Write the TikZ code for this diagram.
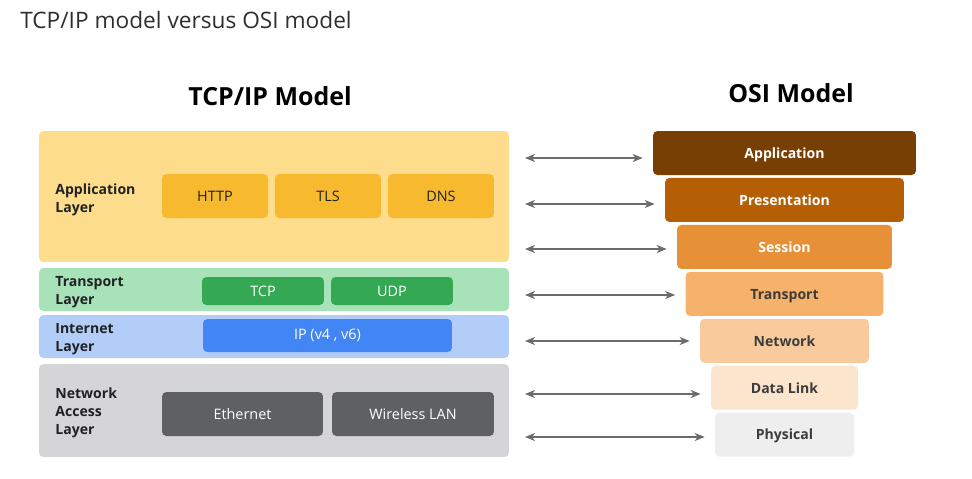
\documentclass[tikz,border=0pt]{standalone}
\usepackage{fontspec}
\setmainfont{Open Sans}
\usetikzlibrary{arrows.meta,positioning}
\usepackage{xcolor}

\definecolor{appout}{HTML}{FDDC8C}
\definecolor{appin}{HTML}{F7B92D}
\definecolor{trout}{HTML}{A8E2B9}
\definecolor{trin}{HTML}{34A853}
\definecolor{inout}{HTML}{B2CEF8}
\definecolor{inin}{HTML}{4285F4}
\definecolor{naout}{HTML}{D5D5D7}
\definecolor{nain}{HTML}{5F6063}
\definecolor{osia}{HTML}{783F04}
\definecolor{osip}{HTML}{B45F06}
\definecolor{osis}{HTML}{E69138}
\definecolor{osit}{HTML}{F6B26B}
\definecolor{osin}{HTML}{F9CB9C}
\definecolor{osid}{HTML}{FCE5CD}
\definecolor{osiph}{HTML}{EEEEEE}
\definecolor{inktxt}{HTML}{202124}
\definecolor{ositxt}{HTML}{3C3C3C}
\definecolor{titletxt}{HTML}{2E2E2E}
\definecolor{arrgray}{HTML}{6B6B6B}

\begin{document}
\begin{tikzpicture}[x=0.02cm, y=-0.02cm,
    every node/.style={rectangle, rounded corners=2.5pt, inner sep=0pt,
        text centered, font=\fontsize{8.2}{10}\selectfont},
    layer/.style={minimum width=9.4cm},
    proto/.style={minimum height=0.88cm},
    lname/.style={anchor=west, align=left, text=inktxt,
        font=\fontsize{8}{10.2}\selectfont\bfseries},
    osi/.style={minimum height=0.88cm, text height=6pt, text depth=0pt,
        font=\fontsize{8}{10}\selectfont\bfseries},
    heading/.style={font=\fontsize{14.2}{17}\selectfont\bfseries, text=black},
    biarr/.style={{Stealth[length=2mm, width=1.6mm, inset=0.6mm]}-{Stealth[length=2mm, width=1.6mm, inset=0.6mm]},
        line width=1.2pt, draw=arrgray, shorten >=10*0.02cm},
]
\useasboundingbox (0,0) rectangle (972,478);

% Title
\node[anchor=base west, text=titletxt, font=\fontsize{12.9}{15}\selectfont] (title) at (20,28) {TCP/IP model versus OSI model};

% Headings
\node[heading] (tcphead) at (270,96) {TCP/IP Model};
\node[heading] (osihead) at (791,93) {OSI Model};

% TCP/IP: Application layer
\node[layer, fill=appout, minimum height=2.62cm] (applayer) at (274,196.5) {};
\node[lname] (applbl) at (55,200) {Application\\Layer};
\node[proto, fill=appin, minimum width=2.12cm, text=inktxt] (http) at (215,196) {HTTP};
\node[proto, fill=appin, minimum width=2.12cm, text=inktxt] (tls)  at (328,196) {TLS};
\node[proto, fill=appin, minimum width=2.12cm, text=inktxt] (dns)  at (441,196) {DNS};

% TCP/IP: Transport layer
\node[layer, fill=trout, minimum height=0.86cm] (trlayer) at (274,289.5) {};
\node[lname] (trlbl) at (55,292) {Transport\\Layer};
\node[fill=trin, minimum width=2.44cm, minimum height=0.56cm, text=white] (tcp) at (263,291) {TCP};
\node[fill=trin, minimum width=2.44cm, minimum height=0.56cm, text=white] (udp) at (392,291) {UDP};

% TCP/IP: Internet layer
\node[layer, fill=inout, minimum height=0.86cm] (inlayer) at (274,336.5) {};
\node[lname] (inlbl) at (55,339) {Internet\\Layer};
\node[fill=inin, minimum width=4.98cm, minimum height=0.66cm, text=white] (ip) at (327.5,335.5) {IP (v4 , v6)};

% TCP/IP: Network access layer
\node[layer, fill=naout, minimum height=1.86cm] (nalayer) at (274,410.5) {};
\node[lname] (nalbl) at (55,413) {Network\\Access\\Layer};
\node[proto, fill=nain, minimum width=3.22cm, text=white] (eth)  at (242.5,414) {Ethernet};
\node[proto, fill=nain, minimum width=3.24cm, text=white] (wlan) at (413,414) {Wireless LAN};

% OSI stack
\node[osi, fill=osia, minimum width=5.26cm, text=white] (oapp) at (784.5,153) {Application};
\node[osi, fill=osip, minimum width=4.78cm, text=white, below=0.045cm of oapp] (opres) {Presentation};
\node[osi, fill=osis, minimum width=4.30cm, text=white, below=0.045cm of opres] (osess) {Session};
\node[osi, fill=osit, minimum width=3.96cm, text=ositxt, below=0.045cm of osess] (otrans) {Transport};
\node[osi, fill=osin, minimum width=3.38cm, text=ositxt, below=0.045cm of otrans] (onet) {Network};
\node[osi, fill=osid, minimum width=2.94cm, text=ositxt, below=0.045cm of onet] (odl) {Data Link};
\node[osi, fill=osiph, minimum width=2.78cm, text=ositxt, below=0.045cm of odl] (ophy) {Physical};

% Arrow ends on the left
\coordinate (a1) at (525,158);
\coordinate (a2) at (525,204);
\coordinate (a3) at (525,249);
\coordinate (a4) at (525,295);
\coordinate (a5) at (525,341);
\coordinate (a6) at (525,394);
\coordinate (a7) at (525,437);

% Arrows
\draw[biarr] (a1) -- (a1 -| oapp.west);
\draw[biarr] (a2) -- (a2 -| opres.west);
\draw[biarr] (a3) -- (a3 -| osess.west);
\draw[biarr] (a4) -- (a4 -| otrans.west);
\draw[biarr] (a5) -- (a5 -| onet.west);
\draw[biarr] (a6) -- (a6 -| odl.west);
\draw[biarr] (a7) -- (a7 -| ophy.west);

\end{tikzpicture}
\end{document}
